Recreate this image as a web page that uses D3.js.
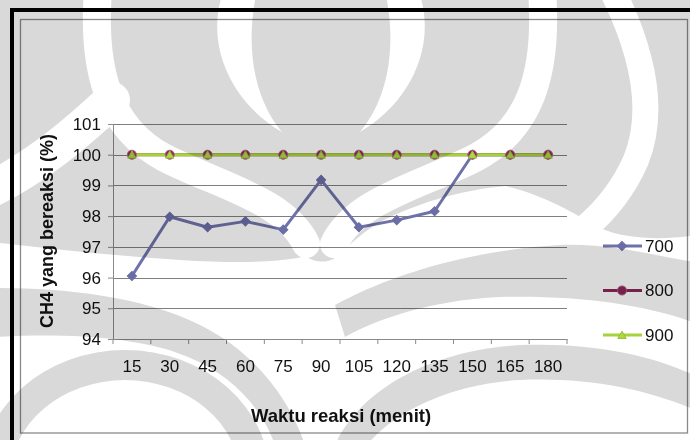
<!DOCTYPE html>
<html><head><meta charset="utf-8">
<script src="https://cdn.jsdelivr.net/npm/d3@7"></script>
<style>
html,body{margin:0;padding:0;background:#fff;}
svg{display:block;font-family:Arial,"Liberation Sans",sans-serif;}
</style></head><body>
<svg id="chart" width="690" height="440"></svg>
<script>
// Reaction time categories (minutes)
const categories = ["15","30","45","60","75","90","105","120","135","150","165","180"];
// CH4 conversion (%) per temperature series
const series700 = [96.05, 97.98, 97.64, 97.83, 97.56, 99.18, 97.64, 97.87, 98.16, 100, 100, 100];
const series800 = [100, 100, 100, 100, 100, 100, 100, 100, 100, 100, 100, 100];
const series900 = [100, 100, 100, 100, 100, 100, 100, 100, 100, 100, 100, 100];
const seriesNames = ["700", "800", "900"];
const yTicks = [94, 95, 96, 97, 98, 99, 100, 101];

const svg = d3.select("#chart");
const W = 690, H = 440;
const plot = {left: 113, right: 567, top: 124, bottom: 339};

const x = d3.scaleBand().domain(categories).range([plot.left, plot.right]).padding(0);
const y = d3.scaleLinear().domain([94, 101]).range([plot.bottom, plot.top]);
const cx = c => x(c) + x.bandwidth() / 2;

svg.append("rect").attr("width", W).attr("height", H).attr("fill", "#fff");

// outer frame and chart border
svg.append("rect").attr("x", 12).attr("y", 10).attr("width", 720).attr("height", 460)
  .attr("fill", "none").attr("stroke", "#000").attr("stroke-width", 4);
svg.append("rect").attr("x", 20.5).attr("y", 19.5).attr("width", 667).attr("height", 413.5)
  .attr("fill", "none").attr("stroke", "#8a8a8a").attr("stroke-width", 1.3);

// horizontal gridlines
svg.append("g").selectAll("line").data(yTicks).join("line")
  .attr("x1", plot.left).attr("x2", plot.right)
  .attr("y1", d => Math.round(y(d)) + 0.5).attr("y2", d => Math.round(y(d)) + 0.5)
  .attr("stroke", "#7f7f7f").attr("stroke-width", 1);

// y axis
const yAxis = svg.append("g").attr("transform", `translate(${plot.left},0)`)
  .call(d3.axisLeft(y).tickValues(yTicks).tickSize(5).tickPadding(7).tickFormat(d3.format("d")));
yAxis.select(".domain").attr("stroke", "#8a8a8a");
yAxis.selectAll(".tick line").attr("stroke", "#8a8a8a");
yAxis.selectAll("text").attr("font-size", 17).attr("fill", "#111").attr("font-family", "Arial, 'Liberation Sans', sans-serif");

// x axis labels and band boundary ticks
const xAxis = svg.append("g").attr("transform", `translate(0,${plot.bottom})`)
  .call(d3.axisBottom(x).tickSize(0).tickPadding(21));
xAxis.select(".domain").attr("stroke", "#8a8a8a");
xAxis.selectAll("text").attr("font-size", 17).attr("fill", "#111").attr("font-family", "Arial, 'Liberation Sans', sans-serif");
const bounds = categories.map(c => x(c)).concat([plot.right]);
svg.append("g").selectAll("line").data(bounds).join("line")
  .attr("x1", d => d).attr("x2", d => d)
  .attr("y1", plot.bottom).attr("y2", plot.bottom + 5)
  .attr("stroke", "#8a8a8a");

// axis titles
svg.append("text").attr("x", 341).attr("y", 422).attr("text-anchor", "middle")
  .attr("font-size", 18.5).attr("font-weight", "bold").attr("fill", "#111")
  .text("Waktu reaksi (menit)");
svg.append("text").attr("transform", "translate(53,231) rotate(-90)").attr("text-anchor", "middle")
  .attr("font-size", 18).attr("font-weight", "bold").attr("fill", "#111")
  .text("CH4 yang bereaksi (%)");

// series
const colors = {"700": "#6f72aa", "800": "#8b2657", "900": "#a8d23c"};
const seriesData = [
  {name: seriesNames[0], values: series700},
  {name: seriesNames[1], values: series800},
  {name: seriesNames[2], values: series900}
];
const line = d3.line().x((d, i) => cx(categories[i])).y(d => y(d));

const lines = svg.append("g");
seriesData.forEach(s => {
  lines.append("path").attr("d", line(s.values)).attr("fill", "none")
    .attr("stroke", colors[s.name]).attr("stroke-width", 3).attr("stroke-linejoin", "round");
});

const markerShape = {
  "700": {type: d3.symbolSquare, size: 42, rot: 45, fill: "#6a6da6", stroke: "#6a6da6"},
  "800": {type: d3.symbolCircle, size: 64, rot: 0, fill: "#8b2657", stroke: "#b65a8c"},
  "900": {type: d3.symbolTriangle, size: 30, rot: 0, fill: "#b0d64a", stroke: "#94bf2a"}
};
seriesData.forEach(s => {
  const m = markerShape[s.name];
  svg.append("g").selectAll("path").data(s.values).join("path")
    .attr("d", d3.symbol(m.type, m.size))
    .attr("transform", (d, i) => `translate(${cx(categories[i])},${y(d) + (s.name === "900" ? 1 : 0)}) rotate(${m.rot})`)
    .attr("fill", m.fill).attr("stroke", m.stroke).attr("stroke-width", 1);
});

// legend
const legendY = d3.scalePoint().domain(seriesNames).range([246, 335]);
const legend = svg.append("g");
seriesData.forEach(s => {
  const m = markerShape[s.name];
  const ly = legendY(s.name);
  legend.append("line").attr("x1", 603).attr("x2", 642).attr("y1", ly).attr("y2", ly)
    .attr("stroke", colors[s.name]).attr("stroke-width", 3);
  legend.append("path").attr("d", d3.symbol(m.type, m.size))
    .attr("transform", `translate(622,${ly + (s.name === "900" ? 1 : 0)}) rotate(${m.rot})`)
    .attr("fill", m.fill).attr("stroke", m.stroke);
  legend.append("text").attr("x", 645).attr("y", ly).attr("dy", "0.35em")
    .attr("font-size", 17).attr("fill", "#111").text(s.name);
});

// background emblem, printed in light grey over the page
const defs = svg.append("defs");
const mask = defs.append("mask").attr("id", "emblemCut");
mask.append("rect").attr("width", W).attr("height", H).attr("fill", "#fff");
const cutStrokes = [
  {d: "M98,-10 C92,70 108,128 165,158 C220,186 285,200 306,244", w: 28},
  {d: "M542,-10 C548,70 532,128 475,158 C420,186 355,200 334,244", w: 28},
  {d: "M112,100 C80,130 40,165 -10,190", w: 36},
  {d: "M612,-10 C642,50 656,110 636,160 C622,192 604,212 585,228", w: 26}
];
cutStrokes.forEach(c => mask.append("path").attr("d", c.d).attr("fill", "none")
  .attr("stroke", "#000").attr("stroke-width", c.w).attr("stroke-linecap", "round"));
["M222,-5 C205,50 235,105 282,132 C255,100 245,50 256,-5 Z",
 "M420,-5 C437,50 407,105 360,132 C387,100 397,50 386,-5 Z"]
  .forEach(d => mask.append("path").attr("d", d).attr("fill", "#000"));

const emblem = svg.append("g").style("mix-blend-mode", "multiply").attr("fill", "#d9d9d9");
emblem.append("path").attr("mask", "url(#emblemCut)")
  .attr("d", "M0,0 H690 V236 C660,240 625,239 600,228 C575,214 545,195 505,186 C460,190 410,205 375,225 C355,238 343,252 335,258 C325,264 313,262 305,256 C285,262 240,264 180,260 C120,256 60,250 0,243 Z");
[
  "M-5,288 C60,288 140,295 200,325 C255,352 290,400 305,445 L275,445 C262,408 232,375 188,357 C140,336 60,333 -5,337 Z",
  "M-20,478 A145,128 0 0 1 270,478 A145,128 0 0 1 -20,478 Z M10,478 A115,98 0 0 1 240,478 A115,98 0 0 1 10,478 Z",
  "M335,445 C360,390 430,350 520,345 C600,342 660,358 700,378 L700,412 C650,390 590,377 520,380 C455,383 395,410 367,445 Z",
  "M335,305 C390,275 470,250 560,245 C610,243 650,255 700,263 L700,325 C650,305 580,295 500,297 C430,300 375,320 345,337 Z"
].forEach(d => emblem.append("path").attr("d", d).attr("fill-rule", "evenodd"));
</script>
</body></html>
